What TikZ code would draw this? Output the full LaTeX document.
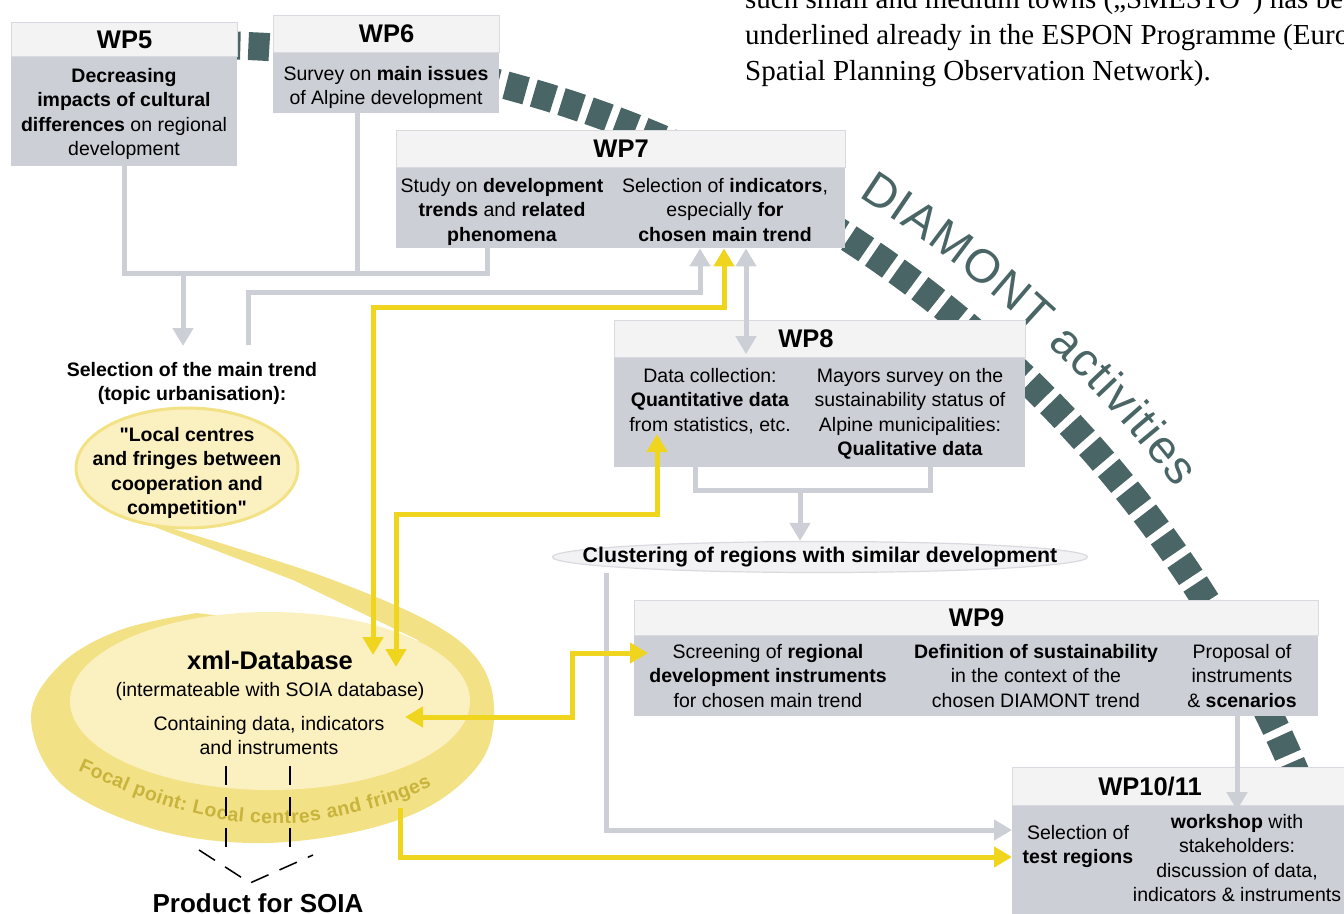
\documentclass[tikz,border=0pt]{standalone}
\usepackage{fontspec}
\setmainfont{Liberation Sans}
\newfontfamily\bookfont{Liberation Serif}
\usetikzlibrary{arrows.meta,decorations.text,shapes.geometric}

\definecolor{boxgray}{RGB}{205,207,214}
\definecolor{headgray}{RGB}{243,243,244}
\definecolor{headline}{RGB}{217,218,223}
\definecolor{diamont}{RGB}{73,101,101}
\definecolor{ylw}{RGB}{240,213,30}
\definecolor{ringyel}{RGB}{243,225,134}
\definecolor{paleyel}{RGB}{251,240,192}
\definecolor{focalyel}{RGB}{200,180,60}
\definecolor{clufill}{RGB}{242,242,244}

% straight double quote, past the TeX mapping
\newcommand{\stq}{\XeTeXglyph\XeTeXcharglyph"22\relax}

\tikzset{
  wpbody/.style={rectangle, fill=boxgray, inner sep=0pt, anchor=north west},
  wphead/.style={rectangle, fill=headgray, draw=headline, line width=1.2pt, inner sep=0pt, anchor=north west, font=\bfseries\fontsize{25.5}{28}\selectfont},
  wplabel/.style={inner sep=0pt, font=\bfseries\fontsize{25.5}{28}\selectfont},
  wptext/.style={align=center, inner sep=0pt, anchor=north, font=\fontsize{19.5}{24.5}\selectfont},
  wpbold/.style={wptext, font=\bfseries\fontsize{19.5}{24.5}\selectfont},
  gline/.style={draw=boxgray, line width=5pt},
  garrow/.style={gline, -{Triangle[width=20pt,length=18pt]}},
  gboth/.style={gline, {Triangle[width=20pt,length=18pt]}-{Triangle[width=20pt,length=18pt]}},
  yline/.style={draw=ylw, line width=5pt},
  yarrow/.style={yline, -{Triangle[width=20pt,length=18pt]}},
  yboth/.style={yline, {Triangle[width=20pt,length=18pt]}-{Triangle[width=20pt,length=18pt]}},
  dline/.style={draw=black, line width=1.5pt, dash pattern=on 19pt off 12pt},
}

\begin{document}
\begin{tikzpicture}[x=1pt,y=-1pt]
	\useasboundingbox (0,0) rectangle (1344,913);
	\clip (0,0) rectangle (1344,913);

	% Page text behind the figure
	\node[anchor=base west, inner sep=0pt, font=\bookfont\fontsize{29}{36}\selectfont] (pg1) at (745,8) {such small and medium towns („SMESTO“) has been};
	\node[anchor=base west, inner sep=0pt, font=\bookfont\fontsize{29}{36}\selectfont] (pg2) at (745,44) {underlined already in the ESPON Programme (European};
	\node[anchor=base west, inner sep=0pt, font=\bookfont\fontsize{29}{36}\selectfont] (pg3) at (745,80.5) {Spatial Planning Observation Network).};

	% DIAMONT band
	\draw[diamont, line width=28pt, dash pattern=on 21pt off 8pt] plot[domain=-96:-14, samples=83] ({199+1190*cos(\x)},{1235+1190*sin(\x)});
	\path[decorate, decoration={text along path, text align={fit to path}, text color=diamont,
		text={|\fontsize{47}{47}\selectfont|DIAMONT activities}}]
		plot[domain=-57.6:-37.4, samples=30] ({199+1230*cos(\x)},{1235+1230*sin(\x)});

	% Focal point ring
	\fill[ringyel] (105,508) -- (293,580) -- (420,641) -- (197,613)
		-- plot[smooth, tension=0.6] coordinates {(197,613) (120,630) (60,665) (31,718) (62,785) (150,828) (250,843) (350,833) (430,806) (482,760) (494,707) (478,660) (430,622) (333,580) (230,546) (150,522) (105,508)} -- cycle;
	\fill[paleyel] (270,701) ellipse [x radius=200pt, y radius=89pt];
	\path[decorate, decoration={text along path, text align={fit to path}, text color=focalyel,
		text={|\bfseries\fontsize{19.5}{20}\selectfont|Focal point: Local centres and fringes}}]
		plot[smooth] coordinates {(78,770) (130,793) (180,810) (240,822) (300,823) (350,814) (400,800) (432,786)};

	% Main trend
	\filldraw[fill=paleyel, draw=ringyel, line width=3pt] (187,468) ellipse [x radius=111pt, y radius=60pt];
	\node[wpbold] (sel) at (192,362) {Selection of the main trend\\(topic urbanisation):};
	\node[wpbold] (loc) at (187,427) {\stq Local centres\\and fringes between\\cooperation and\\competition\stq};

	% Database
	\node[wplabel, anchor=base] (db) at (270,669) {xml-Database};
	\node[wptext, anchor=base] (dbsub) at (270,696) {(intermateable with SOIA database)};
	\node[wptext] (dbtxt) at (269,716) {Containing data, indicators\\and instruments};

	%WP5
	\node[wpbody, minimum width=226, minimum height=110] (wp5) at (11,56) {};
	\node[wphead, minimum width=226, minimum height=34] (wp5h) at (11,22) {WP5};
	\node[wptext] (wp5t) at (124,68) {\textbf{Decreasing}\\\textbf{impacts of cultural}\\\textbf{differences} on regional\\development};
	%WP6
	\node[wpbody, minimum width=226, minimum height=61] (wp6) at (273,52) {};
	\node[wphead, minimum width=226, minimum height=37] (wp6h) at (273,15) {WP6};
	\node[wptext] (wp6t) at (386,66) {Survey on \textbf{main issues}\\of Alpine development};
	%WP7
	\node[wpbody, minimum width=449, minimum height=81] (wp7) at (396,167) {};
	\node[wphead, minimum width=449, minimum height=37] (wp7h) at (396,130) {WP7};
	\node[wptext] (wp7l) at (502,178) {Study on \textbf{development}\\\textbf{trends} and \textbf{related}\\\textbf{phenomena}};
	\node[wptext] (wp7r) at (725,178) {Selection of \textbf{indicators},\\especially \textbf{for}\\\textbf{chosen main trend}};
	%WP8
	\node[wpbody, minimum width=411, minimum height=110] (wp8) at (614,357) {};
	\node[wphead, minimum width=411, minimum height=37] (wp8h) at (614,320) {};
	\node[wplabel] (wp8t) at (806,339) {WP8};
	\node[wptext] (wp8l) at (710,368) {Data collection:\\\textbf{Quantitative data}\\from statistics, etc.};
	\node[wptext] (wp8r) at (910,368) {Mayors survey on the\\sustainability status of\\Alpine municipalities:\\\textbf{Qualitative data}};
	%WP9
	\node[wpbody, minimum width=684, minimum height=81] (wp9) at (634,635) {};
	\node[wphead, minimum width=684, minimum height=35] (wp9h) at (634,600) {WP9};
	\node[wptext] (wp9l) at (768,644) {Screening of \textbf{regional}\\\textbf{development instruments}\\for chosen main trend};
	\node[wptext] (wp9m) at (1036,644) {\textbf{Definition of sustainability}\\in the context of the\\chosen DIAMONT trend};
	\node[wptext] (wp9r) at (1242,644) {Proposal of\\instruments\\\& \textbf{scenarios}};
	%WP10/11
	\node[wpbody, minimum width=340, minimum height=120] (wp10) at (1012,805) {};
	\node[wphead, minimum width=340, minimum height=38] (wp10h) at (1012,767) {};
	\node[wplabel] (wp10t) at (1150,787) {WP10/11};
	\node[wptext] (wp10l) at (1078,825) {Selection of\\\textbf{test regions}};
	\node[wptext] (wp10r) at (1237,814) {\textbf{workshop} with\\stakeholders:\\discussion of data,\\indicators \& instruments};

	% Clustering
	\node[ellipse, draw=headline, line width=1.2pt, fill=clufill, minimum width=535, minimum height=31, inner sep=0pt] (clu) at (820,557) {};
	\node[wpbold, anchor=center, font=\bfseries\fontsize{21.3}{24.5}\selectfont] (clut) at (clu) {Clustering of regions with similar development};

	% Grey connectors
	\coordinate (bus) at (487,273);
	\coordinate (v6) at (357,273);
	\coordinate (v5) at (183,273);
	\coordinate (g2) at (248,292);
	\coordinate (g2e) at (700,292);
	\coordinate (d78) at (746,300);
	\coordinate (b8l) at (695,490);
	\coordinate (b8m) at (800,490);
	\coordinate (b8r) at (930,490);
	\coordinate (k2) at (606,830);
	\coordinate (w9) at (1237,760);
	\draw[gline] (wp5.south) |- (bus) -- (wp7.south -| bus);
	\draw[gline] (wp6.south -| v6) -- (v6);
	\draw[garrow, shorten >=16pt] (v5) -- (sel.north -| v5);
	\draw[garrow, shorten <=17pt] (sel.north -| g2) -- (g2) -- (g2e) -- (wp7.south -| g2e);
	\draw[gboth, shorten >=4pt] (wp7.south -| d78) -- (wp8h.south -| d78);
	\draw[gline] (wp8.south -| b8l) |- (b8r) -- (wp8.south -| b8r);
	\draw[garrow] (b8m) -- (clu.north -| b8m);
	\draw[garrow] (clu.south -| k2) -- (k2) -- (wp10.west |- k2);
	\draw[garrow, shorten >=-4pt] (wp9.south -| w9) -- (wp10h.south -| w9);

	% Yellow connectors
	\coordinate (db1) at (373,655);
	\coordinate (y1a) at (373,307);
	\coordinate (y1b) at (724,307);
	\coordinate (db2) at (396,667);
	\coordinate (y2a) at (396,514);
	\coordinate (y2b) at (657,514);
	\coordinate (db3) at (405,717);
	\coordinate (y3a) at (572,717);
	\coordinate (y3b) at (572,653);
	\coordinate (f1) at (400,808);
	\coordinate (f2) at (400,857);
	\draw[yboth] (db1) -- (y1a) -- (y1b) -- (wp7.south -| y1b);
	\draw[yboth] (db2) -- (y2a) -- (y2b) -- (wp8l.south -| y2b);
	\draw[yboth, shorten >=-14pt] (db3) -- (y3a) -- (y3b) -- (wp9.west |- y3b);
	\draw[yarrow] (f1) -- (f2) -- (wp10.west |- f2);

	% Product for SOIA
	\coordinate (p1) at (226,766);
	\coordinate (p2) at (226,850);
	\coordinate (p3) at (290,766);
	\coordinate (p4) at (290,850);
	\coordinate (q1) at (199,850);
	\coordinate (q2) at (250,883);
	\coordinate (q3) at (313,855);
	\draw[dline] (p1) -- (p2);
	\draw[dline] (p3) -- (p4);
	\draw[dline] (q1) -- (q2) -- (q3);
	\node[wplabel, anchor=base, font=\bfseries\fontsize{26}{28}\selectfont] (prod) at (258,912) {Product for SOIA};
\end{tikzpicture}
\end{document}
